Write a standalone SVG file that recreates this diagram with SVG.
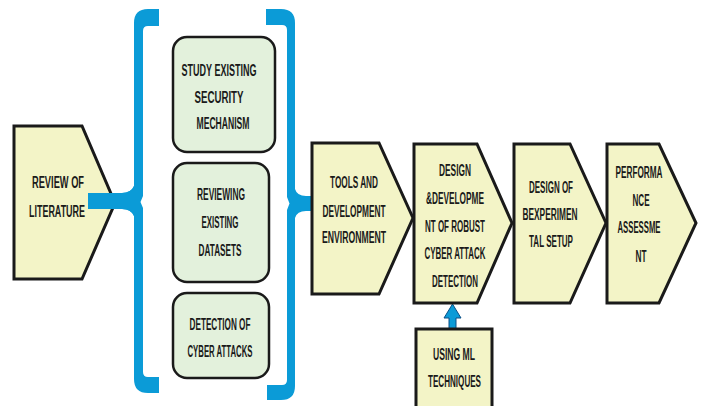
<svg xmlns="http://www.w3.org/2000/svg" width="703" height="406" viewBox="0 0 703 406">
<style>
.y{fill:#f3f4c7;stroke:#1a1a1a;stroke-width:3;stroke-linejoin:miter}
.g{fill:#e3f1dc;stroke:#1a1a1a;stroke-width:2.5}
.b{fill:#0b9bd7}
text{font-family:"Liberation Sans",Arial,sans-serif;font-size:16px;font-weight:bold;fill:#1a1a1a;text-anchor:middle}
</style>
<rect width="703" height="406" fill="#ffffff"/>
<g id="connectors">
<path class="b" d="M159,9 L159,26 L148,26 Q143,26 143,31 L143,196 L140.5,202 L143,208 L143,372 Q143,377 148,377 L159,377 L159,393 L148,393 Q134,393 134,379 L134,216 Q131,209 122,209 L88,209 L88,193 L122,193 Q131,193 134,186 L134,23 Q134,9 148,9 Z"/>
<path class="b" d="M266,9 L281,9 Q295,9 295,23 L295,189 Q297,196 306,196 L313,196 L313,211 L306,211 Q297,211 295,218 L295,386 Q295,400 281,400 L267,400 L267,385 L282,385 Q287,385 287,380 L287,210 L289.5,203.5 L287,197 L287,30 Q287,25 282,25 L266,25 Z"/>
<path d="M449,329 L449,318 L444,318 L452.5,304 L461,318 L456,318 L456,329 Z" fill="#0b9bd7" stroke="#0a4f86" stroke-width="1"/>
</g>
<g id="review">
<path class="y" d="M14,126 L82,126 L115,203 L82,279 L14,279 Z"/>
</g>
<path class="b" d="M88,193 L122,193 Q131,193 134,186 L134,216 Q131,209 122,209 L88,209 Z"/>
<g id="review-text">
<text x="58" y="188" textLength="52" lengthAdjust="spacingAndGlyphs">REVIEW OF</text>
<text x="57" y="217" textLength="56" lengthAdjust="spacingAndGlyphs">LITERATURE</text>
</g>
<g id="study">
<rect class="g" x="173" y="37" width="102" height="115" rx="14"/>
<text x="219" y="76" textLength="75" lengthAdjust="spacingAndGlyphs">STUDY EXISTING</text>
<text x="219" y="103" textLength="49" lengthAdjust="spacingAndGlyphs">SECURITY</text>
<text x="223" y="129" textLength="53" lengthAdjust="spacingAndGlyphs">MECHANISM</text>
</g>
<g id="reviewing">
<rect class="g" x="173" y="163" width="96" height="119" rx="14"/>
<text x="221" y="200" textLength="48" lengthAdjust="spacingAndGlyphs">REVIEWING</text>
<text x="220" y="228" textLength="37" lengthAdjust="spacingAndGlyphs">EXISTING</text>
<text x="220" y="256" textLength="43" lengthAdjust="spacingAndGlyphs">DATASETS</text>
</g>
<g id="detection">
<rect class="g" x="173" y="293" width="96" height="85" rx="14"/>
<text x="220" y="330" textLength="61" lengthAdjust="spacingAndGlyphs">DETECTION OF</text>
<text x="220" y="357" textLength="65" lengthAdjust="spacingAndGlyphs">CYBER ATTACKS</text>
</g>
<g id="tools">
<path class="y" d="M312,143 L379,143 L413,218 L379,294 L312,294 Z"/>
<text x="354" y="188" textLength="48" lengthAdjust="spacingAndGlyphs">TOOLS AND</text>
<text x="354" y="217" textLength="63" lengthAdjust="spacingAndGlyphs">DEVELOPMENT</text>
<text x="354" y="243" textLength="64" lengthAdjust="spacingAndGlyphs">ENVIRONMENT</text>
</g>
<g id="design">
<path class="y" d="M414,144 L477,144 L512,223 L477,303 L414,303 Z"/>
<text x="455" y="176" textLength="32" lengthAdjust="spacingAndGlyphs">DESIGN</text>
<text x="455" y="204" textLength="58" lengthAdjust="spacingAndGlyphs">&amp;DEVELOPME</text>
<text x="455" y="232" textLength="60" lengthAdjust="spacingAndGlyphs">NT OF ROBUST</text>
<text x="455" y="259" textLength="61" lengthAdjust="spacingAndGlyphs">CYBER ATTACK</text>
<text x="455" y="287" textLength="46" lengthAdjust="spacingAndGlyphs">DETECTION</text>
</g>
<g id="experimental">
<path class="y" d="M514,144 L570,144 L606,223 L570,303 L514,303 Z"/>
<text x="551" y="193" textLength="44" lengthAdjust="spacingAndGlyphs">DESIGN OF</text>
<text x="550" y="220" textLength="55" lengthAdjust="spacingAndGlyphs">BEXPERIMEN</text>
<text x="551" y="247" textLength="44" lengthAdjust="spacingAndGlyphs">TAL SETUP</text>
</g>
<g id="performance">
<path class="y" d="M607,144 L659,144 L696,223 L659,303 L607,303 Z"/>
<text x="639" y="178" textLength="47" lengthAdjust="spacingAndGlyphs">PERFORMA</text>
<text x="641" y="206" textLength="17" lengthAdjust="spacingAndGlyphs">NCE</text>
<text x="639" y="233" textLength="43" lengthAdjust="spacingAndGlyphs">ASSESSME</text>
<text x="641" y="262" textLength="11" lengthAdjust="spacingAndGlyphs">NT</text>
</g>
<g id="ml">
<rect class="y" x="416" y="329" width="76" height="90"/>
<text x="454" y="360" textLength="42" lengthAdjust="spacingAndGlyphs">USING ML</text>
<text x="454.5" y="387" textLength="53" lengthAdjust="spacingAndGlyphs">TECHNIQUES</text>
</g>
</svg>
